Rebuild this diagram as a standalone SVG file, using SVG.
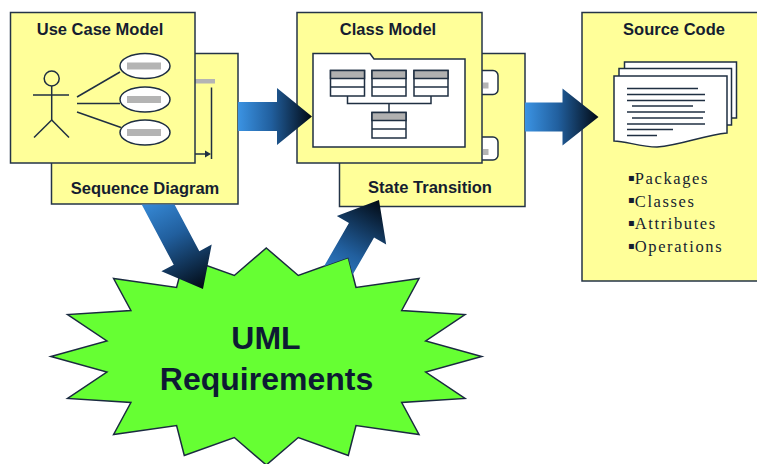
<svg xmlns="http://www.w3.org/2000/svg" width="757" height="464" viewBox="0 0 757 464">
  <style>
    .box { fill: #ffff99; stroke: #243447; stroke-width: 1.5; }
    .title { font-family: "Liberation Sans", Arial, sans-serif; font-weight: bold; font-size: 16.5px; fill: #151d30; text-anchor: middle; }
    .ink { fill: none; stroke: #1f2f42; stroke-width: 1.5; }
    .paper { fill: #ffffff; stroke: #1f2f42; stroke-width: 1.5; }
    .bar { fill: #b4b4b4; }
    .cls-head { fill: #b0b0b0; stroke: #1f2f42; stroke-width: 1.5; }
    .txtline { stroke: #1f2f42; stroke-width: 1.5; }
    .item { font-family: "Liberation Serif", "Times New Roman", serif; font-size: 16.5px; letter-spacing: 1.6px; fill: #151d30; }
    .bullet { font-family: "DejaVu Sans", sans-serif; font-size: 10px; letter-spacing: 0; }
    .big { font-family: "Liberation Sans", Arial, sans-serif; font-weight: bold; font-size: 32px; fill: #0d1a33; text-anchor: middle; }
    .arrow { fill: url(#blueFade); }
  </style>
  <defs>
    <linearGradient id="blueFade" x1="0" y1="0" x2="1" y2="0">
      <stop offset="0" stop-color="#3b93e3"/>
      <stop offset="0.45" stop-color="#215f9e"/>
      <stop offset="1" stop-color="#020a14"/>
    </linearGradient>
    <!-- everything outside the starburst -->
    <clipPath id="outsideBurst" clipPathUnits="userSpaceOnUse">
      <path clip-rule="evenodd" d="M0,0 H757 V464 H0 Z
        M266.3,248 L298.3,275.5 L348.3,257.5 L356,287.5 L419,278.5 L401.7,310.5 L465,314.5 L425.7,341 L481.7,356.5 L425.7,372 L465,398.5 L401.7,402.5 L419,434.5 L356,425.5 L348.3,455.5 L298.3,437.5 L266.3,465 L234.3,437.5 L184.3,455.5 L176.6,425.5 L113.6,434.5 L130.9,402.5 L67.6,398.5 L106.9,372 L50.9,356.5 L106.9,341 L67.6,314.5 L130.9,310.5 L113.6,278.5 L176.6,287.5 L184.3,257.5 L234.3,275.5 Z"/>
    </clipPath>
    <!-- below the Sequence Diagram card -->
    <clipPath id="belowSequence" clipPathUnits="userSpaceOnUse">
      <rect x="0" y="204.6" width="757" height="260"/>
    </clipPath>
  </defs>

  <!-- State Transition card (behind Class Model) -->
  <g id="state-transition">
    <rect class="box" x="339.5" y="53.5" width="185.5" height="153"/>
    <rect class="paper" x="466" y="70.5" width="32" height="24" rx="5"/>
    <rect class="bar" x="483" y="82.5" width="5.5" height="6"/>
    <rect class="paper" x="466" y="137" width="32" height="23" rx="5"/>
    <rect class="bar" x="483" y="149" width="5.5" height="6"/>
    <text class="title" x="430" y="193">State Transition</text>
  </g>

  <!-- Class Model card -->
  <g id="class-model">
    <rect class="box" x="297" y="12.5" width="185" height="150.5"/>
    <text class="title" x="388" y="35">Class Model</text>
    <path class="paper" d="M313,147 V53.5 H370 L374,59 H465 V147 Z"/>
    <!-- three classes on top -->
    <rect class="paper" x="330.5" y="70.5" width="34" height="25.5"/>
    <rect class="cls-head" x="330.5" y="70.5" width="34" height="8"/>
    <line class="txtline" x1="330.5" y1="87" x2="364.5" y2="87"/>
    <rect class="paper" x="372" y="70.5" width="34" height="25.5"/>
    <rect class="cls-head" x="372" y="70.5" width="34" height="8"/>
    <line class="txtline" x1="372" y1="87" x2="406" y2="87"/>
    <rect class="paper" x="414" y="70.5" width="34" height="25.5"/>
    <rect class="cls-head" x="414" y="70.5" width="34" height="8"/>
    <line class="txtline" x1="414" y1="87" x2="448" y2="87"/>
    <!-- links to the lower class -->
    <path class="ink" d="M347.5,96 V103.5 H431 V96 M389,103.5 V112.5"/>
    <rect class="paper" x="372" y="112.5" width="34" height="25.5"/>
    <rect class="cls-head" x="372" y="112.5" width="34" height="8"/>
    <line class="txtline" x1="372" y1="129" x2="406" y2="129"/>
  </g>

  <!-- Source Code card -->
  <g id="source-code">
    <rect class="box" x="582" y="12.5" width="190" height="268.5"/>
    <text class="title" x="674" y="35">Source Code</text>
    <rect class="paper" x="624.5" y="62" width="112" height="56"/>
    <rect class="paper" x="619" y="68.5" width="112.5" height="56.5"/>
    <path class="paper" d="M614,76 H727 V133 C704,135 682,145 657,147 C640,147 626,141 614,141 Z"/>
    <g class="txtline">
      <line x1="627" y1="88.5" x2="698" y2="88.5"/>
      <line x1="627" y1="94.5" x2="705" y2="94.5"/>
      <line x1="627" y1="100.5" x2="705" y2="100.5"/>
      <line x1="632" y1="106" x2="693" y2="106"/>
      <line x1="627" y1="112" x2="705" y2="112"/>
      <line x1="632" y1="118" x2="703" y2="118"/>
      <line x1="627" y1="124" x2="705" y2="124"/>
      <line x1="627" y1="129.5" x2="673" y2="129.5"/>
      <line x1="627" y1="135.5" x2="657" y2="135.5"/>
    </g>
    <text class="item" x="628" y="184"><tspan class="bullet" dy="-3.5">▪</tspan><tspan dy="3.5">Packages</tspan></text>
    <text class="item" x="628" y="206.5"><tspan class="bullet" dy="-3.5">▪</tspan><tspan dy="3.5">Classes</tspan></text>
    <text class="item" x="628" y="229"><tspan class="bullet" dy="-3.5">▪</tspan><tspan dy="3.5">Attributes</tspan></text>
    <text class="item" x="628" y="252"><tspan class="bullet" dy="-3.5">▪</tspan><tspan dy="3.5">Operations</tspan></text>
  </g>

  <!-- UML Requirements starburst -->
  <g id="uml-requirements">
    <path fill="#66ff33" stroke="#1a2a40" stroke-width="1.5" stroke-linejoin="miter"
      d="M266.3,248 L298.3,275.5 L348.3,257.5 L356,287.5 L419,278.5 L401.7,310.5 L465,314.5 L425.7,341 L481.7,356.5 L425.7,372 L465,398.5 L401.7,402.5 L419,434.5 L356,425.5 L348.3,455.5 L298.3,437.5 L266.3,465 L234.3,437.5 L184.3,455.5 L176.6,425.5 L113.6,434.5 L130.9,402.5 L67.6,398.5 L106.9,372 L50.9,356.5 L106.9,341 L67.6,314.5 L130.9,310.5 L113.6,278.5 L176.6,287.5 L184.3,257.5 L234.3,275.5 Z"/>
    <text class="big" x="266" y="349">UML</text>
    <text class="big" x="266.5" y="390">Requirements</text>
  </g>

  <!-- Sequence Diagram card (behind Use Case Model) -->
  <g id="sequence-diagram">
    <rect class="box" x="51.5" y="53.5" width="186.5" height="150.5"/>
    <rect class="bar" x="194" y="79" width="21" height="4.5"/>
    <line class="txtline" x1="211.5" y1="87.5" x2="211.5" y2="159"/>
    <line class="txtline" x1="195" y1="154" x2="209" y2="154"/>
    <path d="M211,154 L205,150.5 L205,157.5 Z" fill="#1f2f42"/>
    <text class="title" x="145" y="194">Sequence Diagram</text>
  </g>

  <!-- Use Case Model card -->
  <g id="use-case-model">
    <rect class="box" x="10.5" y="12.5" width="184.5" height="150.5"/>
    <text class="title" x="100" y="35">Use Case Model</text>
    <!-- actor -->
    <g class="ink">
      <circle cx="51.7" cy="78.5" r="7.5"/>
      <line x1="51.7" y1="86" x2="51.7" y2="120"/>
      <line x1="33" y1="95" x2="69" y2="95"/>
      <line x1="51.7" y1="120" x2="34" y2="137.5"/>
      <line x1="51.7" y1="120" x2="69" y2="137.5"/>
      <line x1="77" y1="97" x2="120" y2="72"/>
      <line x1="77" y1="103.5" x2="120" y2="103.5"/>
      <line x1="77" y1="112" x2="121" y2="127.5"/>
    </g>
    <!-- use cases -->
    <ellipse class="paper" cx="145" cy="66" rx="25" ry="12.5"/>
    <rect class="bar" x="127" y="62.5" width="34" height="7"/>
    <ellipse class="paper" cx="145" cy="99.5" rx="25" ry="12.5"/>
    <rect class="bar" x="127" y="96" width="34" height="7"/>
    <ellipse class="paper" cx="145" cy="132.5" rx="25" ry="12.5"/>
    <rect class="bar" x="127" y="129" width="34" height="7"/>
  </g>

  <!-- connectors: block arrows -->
  <g id="connectors">
    <!-- Use Case / Sequence -> Class Model -->
    <path class="arrow" transform="translate(238,116.5)" d="M0,-14.5 H39 V-28.5 L74,0 L39,28.5 V14.5 H0 Z"/>
    <!-- Class / State -> Source Code -->
    <path class="arrow" transform="translate(525,117)" d="M0,-14.5 H37.5 V-28.5 L73.5,0 L37.5,28.5 V14.5 H0 Z"/>
    <!-- Sequence Diagram -> UML Requirements -->
    <g clip-path="url(#belowSequence)">
      <path class="arrow" transform="translate(150.4,190) rotate(62)" d="M0,-14.5 H77 V-28.5 L112,0 L77,28.5 V14.5 H0 Z"/>
    </g>
    <!-- UML Requirements -> State Transition -->
    <g clip-path="url(#outsideBurst)">
      <path class="arrow" transform="translate(324,295.3) rotate(-60)" d="M0,-14.5 H75 V-28.5 L110,0 L75,28.5 V14.5 H0 Z"/>
    </g>
  </g>
</svg>
